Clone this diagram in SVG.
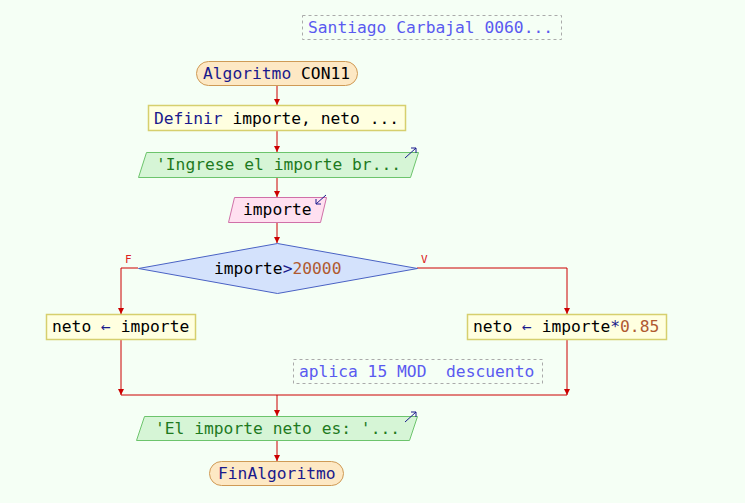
<svg xmlns="http://www.w3.org/2000/svg" width="745" height="503" viewBox="0 0 745 503">
<defs>
<marker id="ah" markerWidth="6" markerHeight="6" refX="6" refY="3" orient="auto" markerUnits="userSpaceOnUse">
<path d="M0,0 L6,3 L0,6 z" fill="#cc0000"/>
</marker>
<style>
text{font-family:"DejaVu Sans Mono","Liberation Mono",monospace;font-size:16.3px;fill:#000}
.kw{fill:#1a1a8c}
.num{fill:#b05a30}
.out{fill:#1e7a1e}
.cm{fill:#5a5af0}
.term{fill:#fde8c4;stroke:#cf9a55;stroke-width:1}
.proc{fill:#ffffe0;stroke:#d6cf6e;stroke-width:1.5}
.outp{fill:#d6f5d6;stroke:#6cc46c;stroke-width:1}
.inp{fill:#ffe0f0;stroke:#d070a8;stroke-width:1}
.dec{fill:#d4e2fc;stroke:#4a62c4;stroke-width:1}
.cbox{fill:none;stroke:#aaaaaa;stroke-width:1;stroke-dasharray:3,3}
.ln{fill:none;stroke:#cc0000;stroke-width:1}
.ic{fill:none;stroke:#1a1a8c;stroke-width:1}
.lab{font-size:11px;fill:#dd2222}
</style>
</defs>
<rect width="745" height="503" fill="#f5fff5"/>
<g id="connectors">
<line class="ln" x1="277" y1="86" x2="277" y2="105" marker-end="url(#ah)"/>
<line class="ln" x1="277" y1="131" x2="277" y2="152" marker-end="url(#ah)"/>
<line class="ln" x1="277" y1="177" x2="277" y2="197" marker-end="url(#ah)"/>
<line class="ln" x1="277" y1="222" x2="277" y2="243" marker-end="url(#ah)"/>
<polyline class="ln" points="138,268 121,268 121,314" marker-end="url(#ah)"/>
<polyline class="ln" points="417,268 567,268 567,314" marker-end="url(#ah)"/>
<line class="ln" x1="121" y1="339" x2="121" y2="395" marker-end="url(#ah)"/>
<line class="ln" x1="567" y1="339" x2="567" y2="395" marker-end="url(#ah)"/>
<line class="ln" x1="121" y1="395" x2="567" y2="395"/>
<line class="ln" x1="277" y1="395" x2="277" y2="416" marker-end="url(#ah)"/>
<line class="ln" x1="277" y1="440" x2="277" y2="461" marker-end="url(#ah)"/>
<text class="lab" x="125" y="263">F</text>
<text class="lab" x="421" y="263">V</text>
</g>
<g id="comment1">
<rect class="cbox" x="302.5" y="15.5" width="259" height="24"/>
<text class="cm" x="308" y="33">Santiago Carbajal 0060...</text>
</g>
<g id="start">
<rect class="term" x="196.5" y="61.5" width="161" height="24" rx="12"/>
<text x="203" y="79"><tspan class="kw">Algoritmo</tspan> CON11</text>
</g>
<g id="define">
<rect class="proc" x="148.5" y="105.5" width="257" height="25"/>
<text x="154" y="123.5"><tspan class="kw">Definir</tspan> importe, neto ...</text>
</g>
<g id="out1">
<polygon class="outp" points="146.5,152.5 418.5,152.5 410.5,177.5 138.5,177.5"/>
<text class="out" x="156" y="170">'Ingrese el importe br...</text>
<path class="ic" d="M405,158 L416,148 M411,148 L416,148 L416,153"/>
</g>
<g id="in1">
<polygon class="inp" points="234.5,197.5 326.5,197.5 320.5,222.5 228.5,222.5"/>
<text x="243" y="215">importe</text>
<path class="ic" d="M326,195 L316,204 M316,199 L316,204 L321,204"/>
</g>
<g id="decision">
<polygon class="dec" points="277.5,243.5 417.5,268.5 277.5,293.5 138.5,268.5"/>
<text x="214" y="274">importe<tspan class="kw">&gt;</tspan><tspan class="num">20000</tspan></text>
</g>
<g id="assignF">
<rect class="proc" x="46.5" y="314.5" width="149" height="25"/>
<text x="52" y="332">neto <tspan class="kw">←</tspan> importe</text>
</g>
<g id="assignV">
<rect class="proc" x="467.5" y="314.5" width="199" height="25"/>
<text x="473" y="332">neto <tspan class="kw">←</tspan> importe<tspan class="kw">*</tspan><tspan class="num">0.85</tspan></text>
</g>
<g id="comment2">
<rect class="cbox" x="293.5" y="359.5" width="249" height="24"/>
<text class="cm" x="299" y="377" xml:space="preserve">aplica 15 MOD  descuento</text>
</g>
<g id="out2">
<polygon class="outp" points="144.5,416.5 417.5,416.5 409.5,440.5 136.5,440.5"/>
<text class="out" x="155" y="434">'El importe neto es: '...</text>
<path class="ic" d="M405,422 L416,412 M411,412 L416,412 L416,417"/>
</g>
<g id="end">
<rect class="term" x="209.5" y="461.5" width="134" height="24" rx="12"/>
<text class="kw" x="218" y="479">FinAlgoritmo</text>
</g>
</svg>
